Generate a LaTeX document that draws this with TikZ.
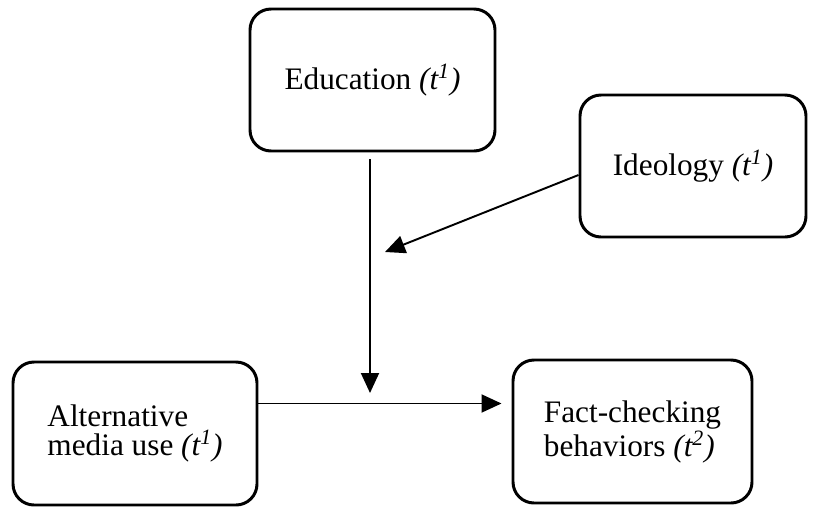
\documentclass[tikz,border=0pt]{standalone}
\usepackage{fontspec}
\setmainfont{Liberation Serif}
\usepackage{tikz}
\usetikzlibrary{arrows.meta,positioning}

\newcommand{\tpt}[1]{\textit{(t\textsuperscript{#1})}}

\begin{document}
\begin{tikzpicture}[every node/.style={draw,rounded corners=0.42cm,line width=1.7pt,align=left,font=\fontsize{17.8}{16.5}\selectfont},
  arr/.style={-{Triangle[length=0.4cm,width=0.36cm]},line width=1.1pt}]
\useasboundingbox (0,0) rectangle (16.3,10.12);
\node[minimum width=4.9cm,minimum height=2.84cm] (edu) at (7.45,8.52) {Education \tpt{1}};
\node[minimum width=4.52cm,minimum height=2.84cm] (ideo) at (13.86,6.80) {Ideology \tpt{1}};
\node[minimum width=4.88cm,minimum height=2.86cm] (alt) at (2.70,1.45) {Alternative\\media use \tpt{1}};
\node[minimum width=4.78cm,minimum height=2.86cm] (fact) at (12.65,1.49) {Fact-checking\\behaviors \tpt{2}};

\coordinate (modtip) at (7.40,2.26);
\coordinate (ideotip) at (7.70,5.08);

\draw[arr,shorten <=0.14cm] (edu.south -| modtip) -- (modtip);
\draw[arr] ([yshift=-0.18cm]ideo.west) -- (ideotip);
\draw[arr,shorten >=0.2cm] ([yshift=0.6cm]alt.east) -- ([yshift=0.6cm]alt.east -| fact.west);
\end{tikzpicture}
\end{document}
